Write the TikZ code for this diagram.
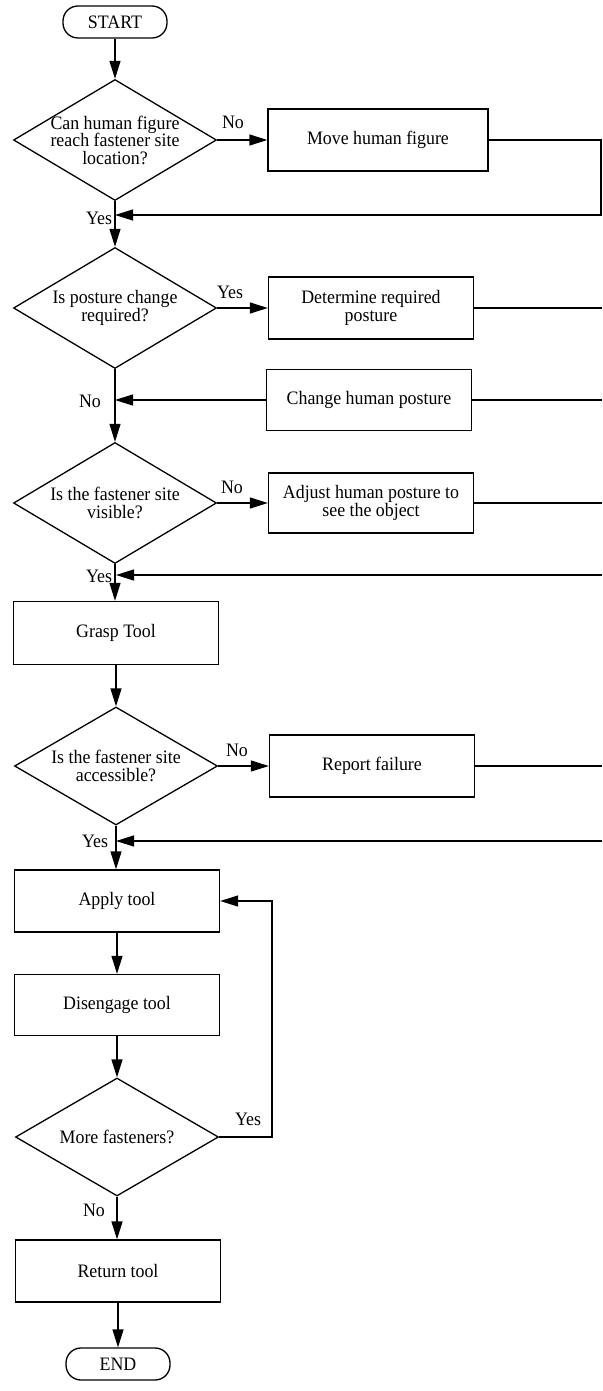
\documentclass[tikz,border=0pt]{standalone}
\usepackage{fontspec}
\setmainfont{Liberation Serif}[FakeStretch=0.94]
\usetikzlibrary{shapes.geometric, arrows.meta}

\begin{document}
\begin{tikzpicture}[x=1pt, y=-1pt, line width=1.3pt,
	font=\fontsize{19pt}{17.5pt}\selectfont,
	terminal/.style={draw, rectangle, rounded corners=15pt, minimum width=104pt, minimum height=32pt, inner sep=0pt},
	process/.style={draw, rectangle, minimum width=205pt, minimum height=62pt, align=center, inner sep=0pt},
	decision/.style={draw, diamond, aspect=1.68, minimum width=203pt, minimum height=121pt, align=center, inner sep=-4pt},
	flow/.style={-{Triangle[length=18pt, width=11pt]}},
	lbl/.style={inner sep=0pt}]
	\useasboundingbox (0, 0) rectangle (602, 1391);
	% Nodes:
	\node[terminal] (start) at (115, 22) {START};
	\node[decision] (reach) at (115, 140) {Can human figure\\reach fastener site\\location?};
	\node[process, minimum width=220pt] (move) at (378, 140) {Move human figure};
	\node[decision] (posture) at (115, 308) {Is posture change\\required?};
	\node[process] (determine) at (371, 308) {Determine required\\posture};
	\node[process, minimum height=61pt] (change) at (369, 400) {Change human posture};
	\node[decision] (visible) at (115, 503) {Is the fastener site\\visible?};
	\node[process, minimum height=60pt] (adjust) at (371, 503) {Adjust human posture to\\see the object};
	\node[process, minimum height=63pt] (grasp) at (116, 633) {Grasp Tool};
	\node[decision, minimum height=118pt] (access) at (116, 766) {Is the fastener site\\accessible?};
	\node[process] (report) at (372, 766) {Report failure};
	\node[process] (apply) at (117, 901) {Apply tool};
	\node[process, minimum height=61pt] (disengage) at (117, 1005) {Disengage tool};
	\node[decision, minimum height=118pt] (more) at (117, 1137) {More fasteners?};
	\node[process] (return) at (118, 1271) {Return tool};
	\node[terminal] (end) at (118, 1364) {END};
	% Free ends and joins:
	\coordinate (j1) at (115, 215);
	\coordinate (e1) at (601, 215);
	\coordinate (j2) at (115, 400);
	\coordinate (j3) at (116, 575);
	\coordinate (e3) at (602, 575);
	\coordinate (j4) at (116, 841);
	\coordinate (e4) at (602, 841);
	\coordinate (loop) at (272, 1137);
	% Wires:
	\draw[flow] (start) -- (reach);
	\draw[flow] (reach.east) -- (move.west);
	\draw[flow] (move.east) -| (e1) -- (j1);
	\draw[flow] (reach.south) -- (posture.north);
	\draw[flow] (posture.east) -- (determine.west);
	\draw (determine.east) -- (602, 308);
	\draw (change.east) -- (602, 400);
	\draw[flow] (change.west) -- (j2);
	\draw[flow] (posture.south) -- (visible.north);
	\draw[flow] (visible.east) -- (adjust.west);
	\draw (adjust.east) -- (602, 503);
	\draw[flow] (e3) -- (j3);
	\draw[flow] (visible.south) -- (grasp.north -| visible.south);
	\draw[flow] (grasp.south) -- (access.north);
	\draw[flow] (access.east) -- (report.west);
	\draw (report.east) -- (602, 766);
	\draw[flow] (e4) -- (j4);
	\draw[flow] (access.south) -- (apply.north -| access.south);
	\draw[flow] (apply.south) -- (disengage.north);
	\draw[flow] (disengage.south) -- (more.north);
	\draw[flow] (more.east) -- (loop) |- (apply.east);
	\draw[flow] (more.south) -- (return.north -| more.south);
	\draw[flow] (return.south) -- (end.north);
	% Labels:
	\node[lbl] (l1) at (233, 122) {No};
	\node[lbl] (l2) at (99, 218) {Yes};
	\node[lbl] (l3) at (230, 292) {Yes};
	\node[lbl] (l4) at (90, 401) {No};
	\node[lbl] (l5) at (232, 487) {No};
	\node[lbl] (l6) at (99, 576) {Yes};
	\node[lbl] (l7) at (237, 750) {No};
	\node[lbl] (l8) at (95, 841) {Yes};
	\node[lbl] (l9) at (248, 1119) {Yes};
	\node[lbl] (l10) at (94, 1210) {No};
\end{tikzpicture}
\end{document}
